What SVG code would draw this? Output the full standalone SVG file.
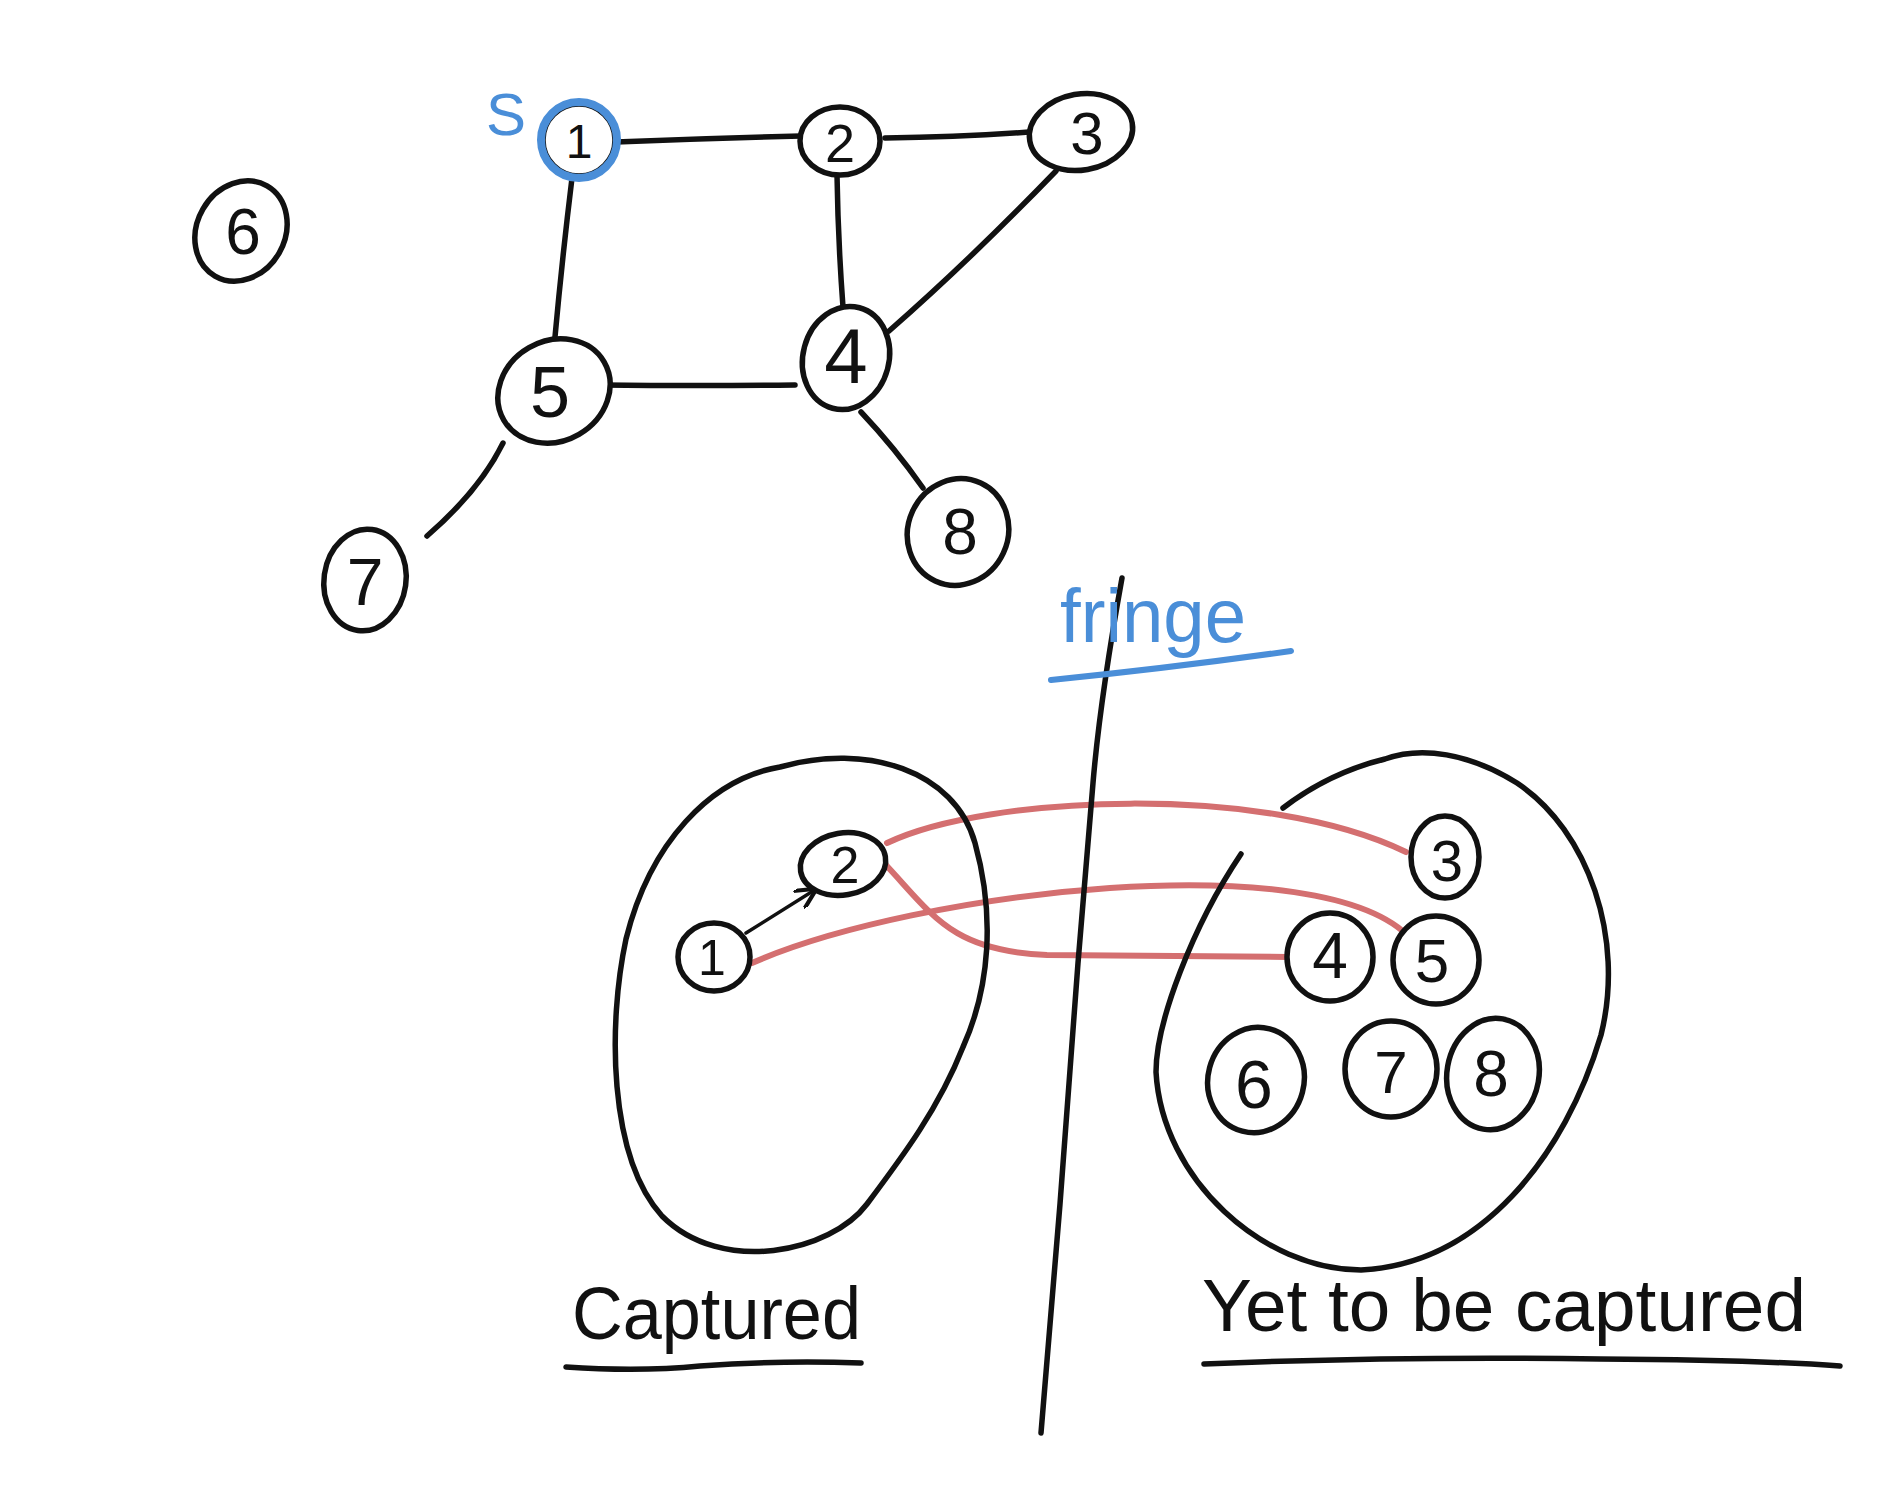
<svg xmlns="http://www.w3.org/2000/svg" width="1888" height="1506" viewBox="0 0 1888 1506">
<style>
.ink{fill:none;stroke:#111;stroke-width:5.5;stroke-linecap:round;stroke-linejoin:round}
.node{fill:#fff;stroke:#111;stroke-width:5.5}
.lbl{font-family:"Liberation Sans","DejaVu Sans",sans-serif;fill:#111;text-anchor:middle;dominant-baseline:central}
.blue{fill:none;stroke:#4a8ed8;stroke-width:5;stroke-linecap:round}
.red{fill:none;stroke:#d46f70;stroke-width:6;stroke-linecap:round}
.word{font-family:"Liberation Sans","DejaVu Sans",sans-serif;fill:#111}
</style>
<defs>
<marker id="arr" viewBox="0 0 10 10" refX="8" refY="5" markerWidth="6" markerHeight="6" orient="auto"><path d="M0,0 L10,5 L0,10" fill="none" stroke="#111" stroke-width="2"/></marker>
</defs>
<rect width="1888" height="1506" fill="#fff"/>

<g id="connectors">
<path class="ink" d="M616 142 Q710 138 801 136"/>
<path class="ink" d="M885 138 Q960 137 1029 132"/>
<path class="ink" d="M572 178 Q562 260 555 337"/>
<path class="ink" d="M837 175 Q838 240 843 307"/>
<path class="ink" d="M1056 171 Q970 260 889 331"/>
<path class="ink" d="M602 385 Q700 386 795 385"/>
<path class="ink" d="M503 443 Q480 490 427 536"/>
<path class="ink" d="M861 412 Q895 448 923 488"/>
<path class="ink" d="M746 933 L813 891" marker-end="url(#arr)" style="stroke-width:3.5"/>
<path class="red" d="M887 843 C987 795 1264 783 1406 852"/>
<path class="red" d="M752 963 C915 891 1324 843 1411 939"/>
<path class="red" d="M885 864 C933 915 951 951 1047 955 L1288 957"/>
</g>

<g id="top-graph">
<g id="n1"><circle class="node" cx="579" cy="140" r="36"/><circle cx="579" cy="140" r="38" fill="none" stroke="#4a8ed8" stroke-width="8"/><text class="lbl" x="579" y="141" font-size="48">1</text></g>
<text id="s-label" x="506" y="114" font-family="Liberation Sans,DejaVu Sans,sans-serif" font-size="60" fill="#4a8ed8" text-anchor="middle" dominant-baseline="central">S</text>
<g id="n2"><ellipse class="node" cx="840" cy="141" rx="40" ry="34"/><text class="lbl" x="840" y="143" font-size="54">2</text></g>
<g id="n3"><ellipse class="node" cx="1081" cy="132" rx="52" ry="38" transform="rotate(-10 1081 132)"/><text class="lbl" x="1087" y="133" font-size="60">3</text></g>
<g id="n4"><ellipse class="node" cx="846" cy="358" rx="43" ry="52" transform="rotate(15 846 358)"/><text class="lbl" x="846" y="356" font-size="78">4</text></g>
<g id="n5"><ellipse class="node" cx="554" cy="391" rx="58" ry="50" transform="rotate(-30 554 391)"/><text class="lbl" x="550" y="392" font-size="72">5</text></g>
<g id="n6"><ellipse class="node" cx="241" cy="231" rx="44" ry="52" transform="rotate(30 241 231)"/><text class="lbl" x="243" y="232" font-size="64">6</text></g>
<g id="n7"><ellipse class="node" cx="365" cy="580" rx="41" ry="51" transform="rotate(8 365 580)"/><text class="lbl" x="365" y="582" font-size="66">7</text></g>
<g id="n8"><ellipse class="node" cx="958" cy="532" rx="50" ry="54" transform="rotate(25 958 532)"/><text class="lbl" x="960" y="532" font-size="64">8</text></g>
</g>

<g id="fringe">
<path class="ink" d="M1122 578 Q1100 700 1093 783 L1078 963 L1060 1204 L1041 1433"/>
<text x="1060" y="642" font-family="Liberation Sans,DejaVu Sans,sans-serif" font-size="76" fill="#4a8ed8" textLength="186" lengthAdjust="spacingAndGlyphs">fringe</text>
<path class="blue" d="M1051 680 Q1170 668 1291 651" style="stroke-width:6"/>
</g>

<g id="captured-set">
<path class="ink" d="M780 767 C867 742 955 771 975 843 C995 915 990 987 963 1047 C939 1108 903 1156 867 1204 C831 1252 722 1276 662 1216 C608 1156 608 1023 626 939 C650 843 710 779 780 767 Z"/>
<g id="c1"><ellipse class="node" cx="714" cy="957" rx="36" ry="34"/><text class="lbl" x="712" y="958" font-size="50">1</text></g>
<g id="c2"><ellipse class="node" cx="843" cy="864" rx="43" ry="31" transform="rotate(-10 843 864)"/><text class="lbl" x="845" y="865" font-size="52">2</text></g>
<text class="word" x="572" y="1339" font-size="74" textLength="289" lengthAdjust="spacingAndGlyphs">Captured</text>
<path class="ink" d="M566 1367 Q640 1372 700 1366 Q780 1360 861 1363" style="stroke-width:5.5"/>
</g>

<g id="uncaptured-set">
<path class="ink" d="M1241 854 C1192 927 1156 1023 1156 1072 C1162 1180 1264 1270 1361 1270 C1481 1264 1565 1156 1601 1035 C1625 939 1589 831 1517 783 C1469 753 1421 746 1385 759 C1336 771 1300 795 1283 808"/>
<g id="u3"><ellipse class="node" cx="1445" cy="857" rx="34" ry="41"/><text class="lbl" x="1447" y="860" font-size="58">3</text></g>
<g id="u4"><ellipse class="node" cx="1330" cy="957" rx="43" ry="44"/><text class="lbl" x="1330" y="956" font-size="64">4</text></g>
<g id="u5"><ellipse class="node" cx="1436" cy="960" rx="43" ry="44"/><text class="lbl" x="1432" y="960" font-size="62">5</text></g>
<g id="u6"><ellipse class="node" cx="1256" cy="1080" rx="48" ry="53" transform="rotate(15 1256 1080)"/><text class="lbl" x="1254" y="1084" font-size="68">6</text></g>
<g id="u7"><ellipse class="node" cx="1391" cy="1069" rx="46" ry="48"/><text class="lbl" x="1391" y="1072" font-size="60">7</text></g>
<g id="u8"><ellipse class="node" cx="1493" cy="1074" rx="46" ry="56" transform="rotate(10 1493 1074)"/><text class="lbl" x="1491" y="1074" font-size="64">8</text></g>
<text class="word" x="1202" y="1331" font-size="74" textLength="604" lengthAdjust="spacingAndGlyphs">Yet to be captured</text>
<path class="ink" d="M1204 1364 Q1400 1356 1600 1359 Q1760 1360 1840 1366" style="stroke-width:5.5"/>
</g>
</svg>
